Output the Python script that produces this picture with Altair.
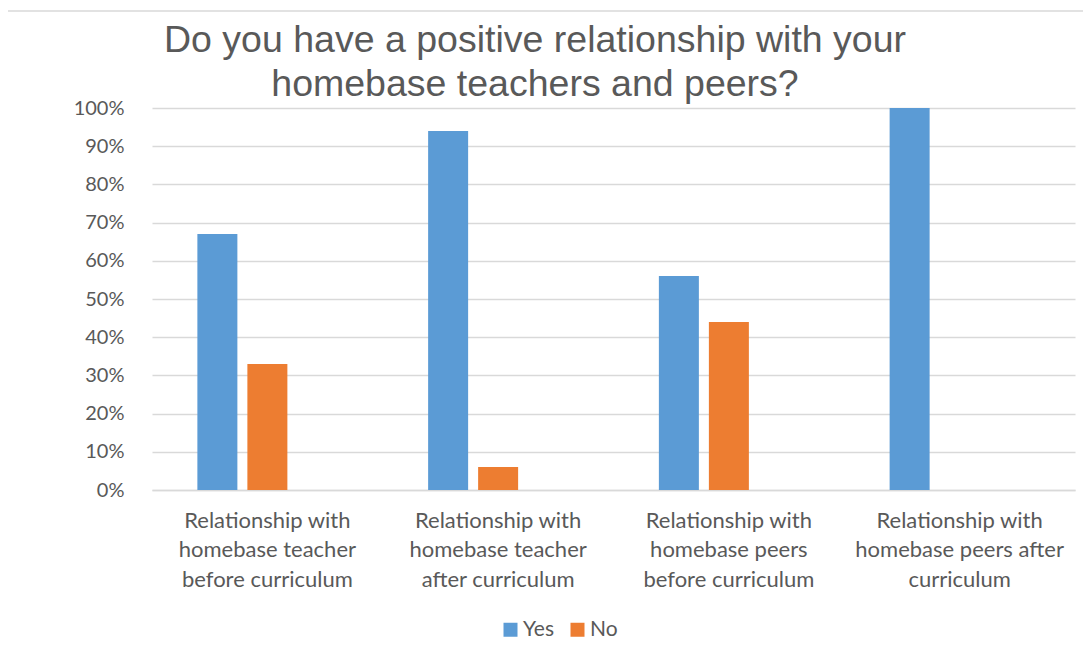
import altair as alt
import pandas as pd

categories = [
    "Relationship with|homebase teacher|before curriculum",
    "Relationship with|homebase teacher|after curriculum",
    "Relationship with|homebase peers|before curriculum",
    "Relationship with|homebase peers after|curriculum",
]
yes_values = [0.67, 0.94, 0.56, 1.00]
no_values = [0.33, 0.06, 0.44, 0.00]
series = ["Yes", "No"]
colors = ["#5B9BD5", "#ED7D31"]
title_text = "Do you have a positive relationship with your|homebase teachers and peers?"

rows = []
for c, y, n in zip(categories, yes_values, no_values):
    rows.append({"category": c, "series": "Yes", "value": y})
    rows.append({"category": c, "series": "No", "value": n})
df = pd.DataFrame(rows)

W, H = 923, 382
PL, PT = 144, 100
TOTAL_W, TOTAL_H = 1075, 645

AXIS_FONT = "Lato"
TEXT_COLOR = "#595959"
GRID = "#D9D9D9"

bars = alt.Chart(df).mark_bar().encode(
    x=alt.X("category:N", sort=categories, title=None,
            scale=alt.Scale(paddingInner=0, paddingOuter=0),
            axis=alt.Axis(labelAngle=0, labelExpr="split(datum.label, '|')",
                          labelFont=AXIS_FONT, labelFontSize=22, labelColor=TEXT_COLOR,
                          labelLineHeight=29.5, labelPadding=20, labelBaseline="top",
                          labelLimit=400, ticks=False, domainColor=GRID, domainWidth=1.5,
                          grid=False)),
    xOffset=alt.XOffset("series:N", scale=alt.Scale(domain=["Yes", "No", "Other"],
                                                    paddingInner=0.2, paddingOuter=0.9075)),
    y=alt.Y("value:Q", title=None,
            scale=alt.Scale(domain=[0, 1], nice=False),
            axis=alt.Axis(format="%", values=[i / 10 for i in range(11)],
                          labelFont=AXIS_FONT, labelFontSize=20, labelColor=TEXT_COLOR,
                          labelPadding=28, ticks=False, domain=False,
                          gridColor=GRID, gridWidth=1.5)),
    color=alt.Color("series:N", scale=alt.Scale(domain=series, range=colors),
                    legend=alt.Legend(title=None, orient="none", direction="horizontal",
                                      legendX=348, legendY=511, symbolType="square",
                                      symbolSize=196, symbolStrokeWidth=0,
                                      labelFont=AXIS_FONT, labelFontSize=21,
                                      labelColor=TEXT_COLOR, labelOffset=2,
                                      columnPadding=13, padding=0)),
)

title = alt.Chart(pd.DataFrame({"t": [title_text]})).mark_text(
    font="Liberation Sans", fontSize=37.5, color=TEXT_COLOR, align="center",
    baseline="alphabetic", lineBreak="|", lineHeight=43.5,
).encode(text="t:N", x=alt.value(383), y=alt.value(-56))

frame = alt.Chart(pd.DataFrame({"a": [0]})).mark_rect(
    filled=False, stroke=GRID, strokeWidth=1.5
).encode(
    x=alt.value(-145), x2=alt.value(TOTAL_W - PL + 20),
    y=alt.value(-97), y2=alt.value(TOTAL_H - PT + 20),
)

chart = alt.layer(frame, bars, title).properties(
    width=W, height=H,
    padding={"left": PL, "top": PT, "right": TOTAL_W - PL - W, "bottom": TOTAL_H - PT - H},
    autosize=alt.AutoSizeParams(type="none"),
).configure_view(stroke=None)

chart.save("out.html", embed_options={"renderer": "svg", "actions": False})
